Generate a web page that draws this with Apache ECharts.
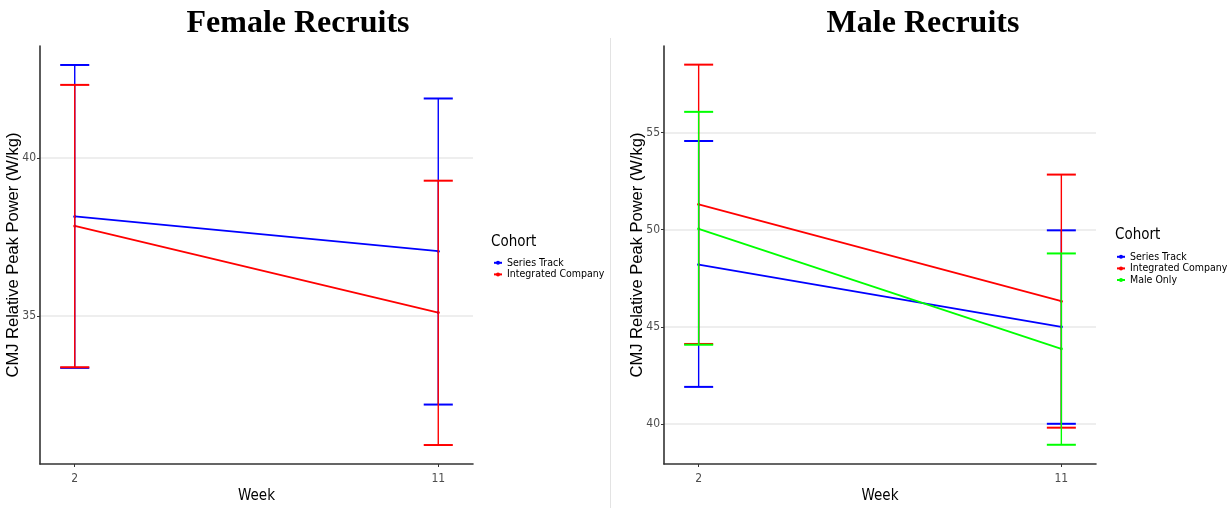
<!DOCTYPE html>
<html>
<head>
<meta charset="utf-8">
<script src="https://cdn.jsdelivr.net/npm/echarts@6/dist/echarts.min.js"></script>
<style>
html,body{margin:0;padding:0;background:#fff;}
#chart{width:1231px;height:508px;}
</style>
</head>
<body>
<div id="chart"></div>
<script>
// ---- data ----
const weeks = [2, 11];
const weekTicks = [2, 11];
const femaleYTicks = [35, 40];
const maleYTicks = [40, 45, 50, 55];

const femaleSeriesTrackMean  = [38.15, 37.05];
const femaleSeriesTrackLower = [33.36, 32.20];
const femaleSeriesTrackUpper = [42.94, 41.88];
const femaleIntegratedMean   = [37.85, 35.11];
const femaleIntegratedLower  = [33.38, 30.92];
const femaleIntegratedUpper  = [42.31, 39.28];

const maleSeriesTrackMean  = [48.21, 45.00];
const maleSeriesTrackLower = [41.91, 40.01];
const maleSeriesTrackUpper = [54.57, 49.97];
const maleIntegratedMean   = [51.31, 46.32];
const maleIntegratedLower  = [44.12, 39.81];
const maleIntegratedUpper  = [58.50, 52.84];
const maleOnlyMean         = [50.05, 43.87];
const maleOnlyLower        = [44.08, 38.93];
const maleOnlyUpper        = [56.07, 48.78];

const femaleYRange = [30.32, 43.54];
const maleYRange = [37.94, 59.46];
const weekRange = [1.14, 11.86];

// ---- styles ----
const BLUE = '#0000ff', RED = '#ff0000', GREEN = '#00ff00';
const capHalf = 0.36;
const narrow = "'DejaVu Sans Condensed', 'Liberation Sans', sans-serif";
const sans = "'Liberation Sans', Arial, sans-serif";

function pts(means) { return weeks.map((w, i) => [w, means[i]]); }
function bars(lo, hi) { return weeks.map((w, i) => [w, lo[i], hi[i]]); }

function errorBarItem(params, api) {
  const x = api.value(0), lo = api.value(1), hi = api.value(2);
  const a = api.coord([x, lo]), b = api.coord([x, hi]);
  const l = api.coord([x - capHalf, hi]), r = api.coord([x + capHalf, hi]);
  const l2 = api.coord([x - capHalf, lo]), r2 = api.coord([x + capHalf, lo]);
  const c = api.visual('color');
  return {
    type: 'group',
    children: [
      { type: 'line', shape: { x1: a[0], y1: a[1], x2: b[0], y2: b[1] }, style: { stroke: c, lineWidth: 1.4 } },
      { type: 'line', shape: { x1: l[0], y1: l[1], x2: r[0], y2: r[1] }, style: { stroke: c, lineWidth: 2 } },
      { type: 'line', shape: { x1: l2[0], y1: l2[1], x2: r2[0], y2: r2[1] }, style: { stroke: c, lineWidth: 2 } }
    ]
  };
}

function lineSeries(name, color, idx, means) {
  return {
    name, type: 'line', xAxisIndex: idx, yAxisIndex: idx,
    data: pts(means), color,
    symbol: 'circle', symbolSize: 3, showSymbol: true,
    lineStyle: { width: 1.8, color }, itemStyle: { color },
    z: 2, silent: true
  };
}
function barSeries(name, color, idx, lo, hi, z) {
  return {
    name, type: 'custom', xAxisIndex: idx, yAxisIndex: idx,
    data: bars(lo, hi), renderItem: errorBarItem,
    encode: { x: 0, y: [1, 2] },
    itemStyle: { color }, z, silent: true
  };
}

function xAxis(idx) {
  return {
    type: 'value', gridIndex: idx, min: weekRange[0], max: weekRange[1],
    name: 'Week', nameLocation: 'middle', nameGap: 25, nameMoveOverlap: false,
    nameTextStyle: { fontFamily: narrow, fontSize: 15, color: '#000' },
    axisLine: { show: true, onZero: false, lineStyle: { color: '#333', width: 1.6 } },
    axisTick: { show: true, length: 3, customValues: weekTicks, lineStyle: { color: '#333', width: 1 } },
    axisLabel: { customValues: weekTicks, fontFamily: narrow, fontSize: 12, color: '#4d4d4d', margin: 9 },
    splitLine: { show: false }
  };
}
function yAxis(idx, range, ticks) {
  return {
    type: 'value', gridIndex: idx, min: range[0], max: range[1],
    name: 'CMJ Relative Peak Power (W/kg)', nameLocation: 'middle', nameGap: 18, nameMoveOverlap: false,
    nameTextStyle: { fontFamily: sans, fontSize: 16.5, color: '#000' },
    axisLine: { show: true, onZero: false, lineStyle: { color: '#333', width: 1.6 } },
    axisTick: { show: true, length: 3, customValues: ticks, lineStyle: { color: '#333', width: 1 } },
    axisLabel: { customValues: ticks, fontFamily: narrow, fontSize: 12, color: '#4d4d4d', margin: 4 },
    splitLine: { show: true, lineStyle: { color: '#e8e8e8', width: 1.5 } }
  };
}

const chart = echarts.init(document.getElementById('chart'), null, { renderer: 'canvas' });
chart.setOption({
  animation: false,
  backgroundColor: '#fff',
  title: [
    { text: 'Female Recruits', left: 298, top: 8, padding: 0, textAlign: 'center',
      textStyle: { fontFamily: "'Liberation Serif', 'Times New Roman', serif", fontWeight: 'bold', fontSize: 32, color: '#000' } },
    { text: 'Male Recruits', left: 923, top: 8, padding: 0, textAlign: 'center',
      textStyle: { fontFamily: "'Liberation Serif', 'Times New Roman', serif", fontWeight: 'bold', fontSize: 32, color: '#000' } },
    { text: 'Cohort', left: 491, top: 235, padding: 0, textStyle: { fontFamily: narrow, fontSize: 15, fontWeight: 'normal', color: '#000' } },
    { text: 'Cohort', left: 1115, top: 228, padding: 0, textStyle: { fontFamily: narrow, fontSize: 15, fontWeight: 'normal', color: '#000' } }
  ],
  legend: [
    { orient: 'vertical', left: 493, top: 257, padding: 0, itemWidth: 8, itemHeight: 5, itemGap: 0,
      data: ['Series Track', 'Integrated Company'],
      textStyle: { fontFamily: narrow, fontSize: 10.5, color: '#000', lineHeight: 11.6 } },
    { orient: 'vertical', left: 1116, top: 251, padding: 0, itemWidth: 8, itemHeight: 5, itemGap: 0,
      data: ['Series Track', 'Integrated Company', 'Male Only'],
      textStyle: { fontFamily: narrow, fontSize: 10.5, color: '#000', lineHeight: 11.6 } }
  ],
  grid: [
    { left: 40, right: 1231 - 473, top: 46, bottom: 508 - 464, outerBoundsMode: 'none', containLabel: false },
    { left: 664, right: 1231 - 1096, top: 46, bottom: 508 - 464, outerBoundsMode: 'none', containLabel: false }
  ],
  xAxis: [xAxis(0), xAxis(1)],
  yAxis: [yAxis(0, femaleYRange, femaleYTicks), yAxis(1, maleYRange, maleYTicks)],
  graphic: [
    { type: 'line', shape: { x1: 610.5, y1: 38, x2: 610.5, y2: 508 }, style: { stroke: '#e3e3e3', lineWidth: 1 }, silent: true }
  ],
  series: [
    lineSeries('Series Track', BLUE, 0, femaleSeriesTrackMean),
    lineSeries('Integrated Company', RED, 0, femaleIntegratedMean),
    lineSeries('Series Track', BLUE, 1, maleSeriesTrackMean),
    lineSeries('Integrated Company', RED, 1, maleIntegratedMean),
    lineSeries('Male Only', GREEN, 1, maleOnlyMean),
    barSeries('Series Track', BLUE, 0, femaleSeriesTrackLower, femaleSeriesTrackUpper, 3),
    barSeries('Integrated Company', RED, 0, femaleIntegratedLower, femaleIntegratedUpper, 4),
    barSeries('Series Track', BLUE, 1, maleSeriesTrackLower, maleSeriesTrackUpper, 3),
    barSeries('Integrated Company', RED, 1, maleIntegratedLower, maleIntegratedUpper, 4),
    barSeries('Male Only', GREEN, 1, maleOnlyLower, maleOnlyUpper, 5)
  ]
});
</script>
</body>
</html>
